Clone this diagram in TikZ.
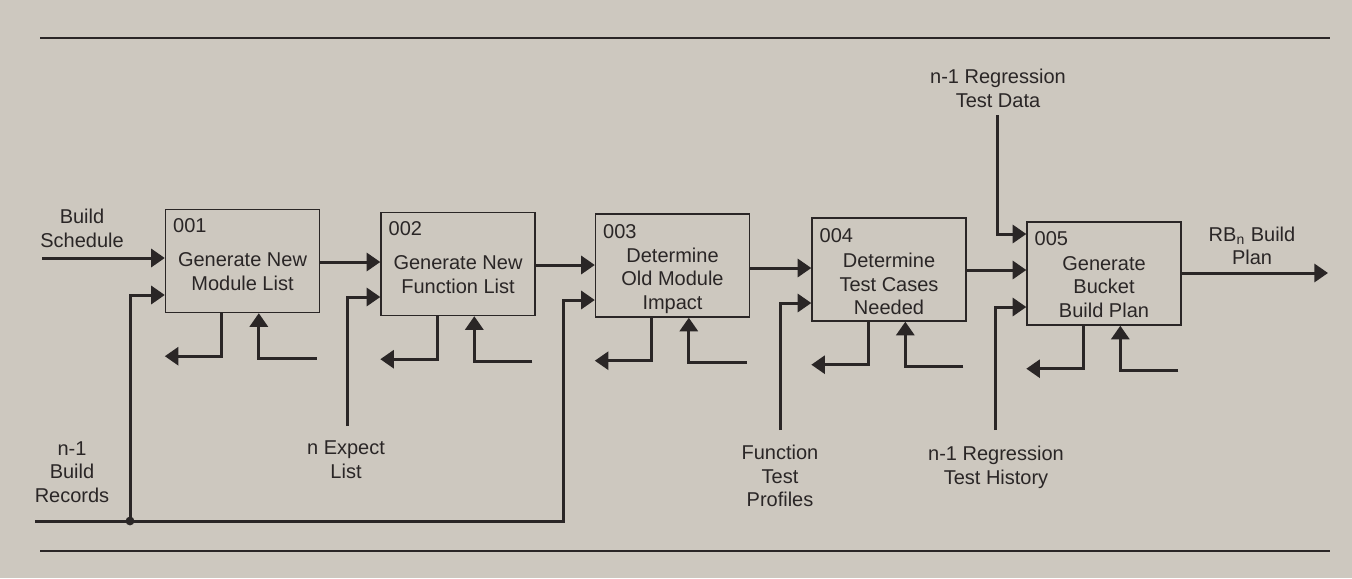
\documentclass[tikz,border=0pt]{standalone}
\usepackage{fontspec}
\setmainfont{Liberation Sans}
\usetikzlibrary{arrows.meta,calc}
\definecolor{paper}{RGB}{205,200,191}
\definecolor{ink}{RGB}{42,38,38}
\begin{document}
\begin{tikzpicture}[x=0.5pt,y=-0.5pt,
  every node/.style={text=ink, font=\fontsize{10}{11.75}\selectfont, inner sep=0pt},
  proc/.style={draw=ink, line width=0.7pt, minimum width=77pt, minimum height=51.5pt},
  lbl/.style={align=center},
  num/.style={anchor=west},
  conn/.style={draw=ink, line width=1.5pt},
  arr/.style={conn, -{Triangle[length=6.8pt,width=9pt]}},
  rule/.style={draw=ink, line width=0.6pt}]
\useasboundingbox (0,0) rectangle (1352,578);
\fill[paper] (0,0) rectangle (1352,578);

% rules
\coordinate (tl) at (40,38); \coordinate (tr) at (1330,38);
\coordinate (bl) at (40,551); \coordinate (br) at (1330,551);
\draw[rule] (tl) -- (tr);
\draw[rule] (bl) -- (br);

% boxes
\node[proc] (b1) at (242.5,261) {};
\node[proc] (b2) at (458,264) {};
\node[proc] (b3) at (672.5,265.5) {};
\node[proc] (b4) at (889,269.5) {};
\node[proc] (b5) at (1104,273.5) {};

\node[num] (n1) at ($(b1.north west)+(8,17)$) {001};
\node[num] (n2) at ($(b2.north west)+(8,17)$) {002};
\node[num] (n3) at ($(b3.north west)+(8,18)$) {003};
\node[num] (n4) at ($(b4.north west)+(8,18)$) {004};
\node[num] (n5) at ($(b5.north west)+(8,17)$) {005};

\node[lbl] (t1) at ($(b1.center)+(0,10.5)$) {Generate New\\Module List};
\node[lbl] (t2) at ($(b2.center)+(0,10.5)$) {Generate New\\Function List};
\node[lbl] (t3) at ($(b3.center)+(0,15)$) {Determine\\Old Module\\Impact};
\node[lbl] (t4) at ($(b4.center)+(0,14.5)$) {Determine\\Test Cases\\Needed};
\node[lbl] (t5) at ($(b5.center)+(0,13.5)$) {Generate\\Bucket\\Build Plan};

% labels
\node[lbl] (lbs) at (82,228.5) {Build\\Schedule};
\node[lbl] (lrb) at (72,472) {n-1\\Build\\Records};
\node[lbl] (lne) at (346,459.5) {n Expect\\List};
\node[lbl] (lft) at (780,476) {Function\\Test\\Profiles};
\node[lbl] (lrh) at (996,467.5) {n-1 Regression\\Test History};
\node[lbl] (lrd) at (998,88.5) {n-1 Regression\\Test Data};
\node[lbl] (lrb5) at (1252,246) {RB\textsubscript{n} Build\\Plan};

% main flow
\coordinate (bs) at (42,258);
\draw[arr] (bs) -- (bs -| b1.west);
\coordinate (f12) at (0,262);
\coordinate (f23) at (0,265);
\coordinate (f34) at (0,268);
\coordinate (f45) at (0,270);
\draw[arr] (f12 -| b1.east) -- (f12 -| b2.west);
\draw[arr] (f23 -| b2.east) -- (f23 -| b3.west);
\draw[arr] (f34 -| b3.east) -- (f34 -| b4.west);
\draw[arr] (f45 -| b4.east) -- (f45 -| b5.west);
\coordinate (out) at (1328,273);
\draw[arr] (out -| b5.east) -- (out);

% build records
\coordinate (rs) at (35,521);
\coordinate (j) at (130,521);
\coordinate (rc) at (563,521);
\coordinate (i1) at (0,295);
\coordinate (i3) at (0,300);
\draw[arr] (rs) -- (rc) |- (i3 -| b3.west);
\draw[arr] (j) |- (i1 -| b1.west);
\fill[ink] (j) circle (2.2pt);

% other lower inputs
\coordinate (e2) at (347,426);
\coordinate (i2) at (0,297);
\draw[arr] (e2) |- (i2 -| b2.west);
\coordinate (e4) at (780,430);
\coordinate (i4) at (0,303);
\draw[arr] (e4) |- (i4 -| b4.west);
\coordinate (e5) at (995,430);
\coordinate (i5) at (0,307);
\draw[arr] (e5) |- (i5 -| b5.west);
\coordinate (e5t) at (997,115);
\coordinate (i5t) at (0,234);
\draw[arr] (e5t) |- (i5t -| b5.west);

% outputs and controls under each box
\foreach \b in {b1,b2,b3,b4,b5}{
  \draw[arr] ($(\b.south west)+(57,0)$) -- ++(0,43) -- ++(-57,0);
  \draw[arr] ($(\b.south west)+(152,45)$) -- ++(-58,0) -- ++(0,-45);
}
\end{tikzpicture}
\end{document}
